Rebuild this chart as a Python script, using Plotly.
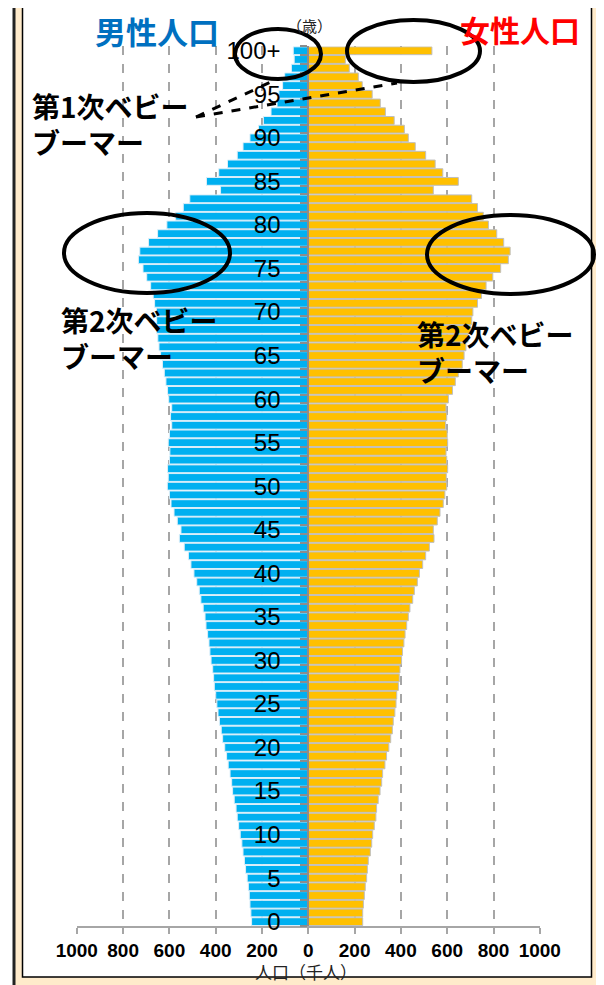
import plotly.graph_objects as go

# The page body has an 8px default margin: the figure is sized so that it
# fills the 604x985 window exactly from that offset.
WIN_W, WIN_H = 604, 985
OFF = 8
W, H = WIN_W - OFF, WIN_H - OFF

# ---------------- data (thousands of people), age 0 .. 100+ ----------------
ages = list(range(101))
male = [245, 248, 252, 255, 259, 264, 271, 276, 282, 287,
        294, 301, 307, 312, 320, 327, 331, 338, 346, 353,
        361, 370, 376, 384, 390, 395, 400, 406, 409, 413,
        420, 425, 429, 435, 442, 446, 454, 464, 471, 482,
        494, 507, 518, 536, 557, 550, 566, 580, 593, 600,
        609, 605, 608, 600, 598, 605, 600, 590, 595, 590,
        603, 608, 615, 622, 630, 638, 645, 650, 655, 655,
        656, 664, 670, 681, 698, 714, 734, 728, 690, 651,
        611, 573, 540, 512, 379, 440, 387, 349, 307, 282,
        252, 215, 194, 161, 135, 127, 111, 102, 73, 61,
        65]
female = [235, 235, 238, 242, 246, 252, 255, 259, 268, 274,
          278, 285, 292, 295, 302, 310, 317, 321, 331, 338,
          348, 356, 363, 367, 374, 379, 382, 389, 393, 396,
          403, 407, 413, 418, 425, 432, 439, 451, 458, 471,
          480, 494, 507, 523, 543, 540, 557, 569, 583, 590,
          598, 596, 602, 598, 595, 602, 600, 593, 598, 595,
          605, 623, 635, 648, 665, 673, 681, 690, 701, 706,
          711, 731, 748, 768, 797, 831, 864, 872, 844, 814,
          778, 756, 731, 706, 540, 648, 581, 548, 507, 462,
          432, 415, 371, 333, 311, 276, 233, 216, 177, 160,
          534]
age_tick_vals = list(range(0, 101, 5))
age_tick_text = [str(a) for a in range(0, 100, 5)] + ["100+"]
pop_tick_vals = list(range(-1000, 1001, 200))
pop_tick_text = [str(abs(v)) for v in pop_tick_vals]
boundary_ticks = [a - 0.5 for a in range(0, 102)]

male_title = "男性人口"
female_title = "女性人口"
unit_label = "（歳）"
x_title = "人口（千人）"
boomer1 = "第1次ベビー<br>ブーマー"
boomer2 = "第2次ベビー<br>ブーマー"


def px(x):
    """window pixel x -> paper fraction"""
    return (x - OFF) / W


def py(y):
    """window pixel y -> paper fraction"""
    return 1 - (y - OFF) / H


fig = go.Figure()
fig.add_trace(go.Bar(
    x=[-v for v in male], y=ages, orientation="h",
    marker=dict(color="#00B0F0", line=dict(color="#DDEFF9", width=1)),
    showlegend=False, hoverinfo="skip"))
fig.add_trace(go.Bar(
    x=female, y=ages, orientation="h",
    marker=dict(color="#FFC000", line=dict(color="#BFBFBF", width=1)),
    showlegend=False, hoverinfo="skip"))

x_dom = [px(76.8), px(539.8)]
y_dom = [py(926.0), py(46.4)]
zero_pos = x_dom[0] + 0.5 * (x_dom[1] - x_dom[0])

fig.update_layout(
    width=W, height=H,
    margin=dict(l=0, r=0, t=0, b=0, pad=0, autoexpand=False),
    paper_bgcolor="white", plot_bgcolor="rgba(0,0,0,0)",
    barmode="overlay", bargap=0.1,
    xaxis=dict(domain=x_dom, range=[-1000, 1000], tickmode="array",
               tickvals=pop_tick_vals, ticktext=pop_tick_text, automargin=False,
               showgrid=True, gridcolor="#A6A6A6", griddash="dash", gridwidth=1.5,
               zeroline=False, showline=True, linecolor="#A6A6A6", linewidth=2,
               ticks="outside", ticklen=6, tickwidth=2, tickcolor="#A6A6A6",
               tickfont=dict(family="Liberation Sans", size=19, color="black", weight="bold"),
               fixedrange=True),
    yaxis=dict(domain=y_dom, range=[-0.5, 100.5], anchor="free", position=zero_pos,
               automargin=False,
               tickmode="array", tickvals=age_tick_vals, ticktext=age_tick_text,
               ticks="", ticklabelstandoff=22,
               minor=dict(tickmode="array", tickvals=boundary_ticks, ticks="outside",
                          ticklen=7, tickwidth=1.5, tickcolor="#8C8C8C", showgrid=False),
               showgrid=False, zeroline=False, showline=True, linecolor="#8C8C8C", linewidth=2,
               tickfont=dict(family="Liberation Sans", size=24, color="black"),
               fixedrange=True),
)

shapes = []
# cream strip right of the outer frame
shapes.append(dict(type="rect", xref="paper", yref="paper", layer="below",
                   x0=px(600), x1=px(610), y0=py(1000), y1=py(-10),
                   fillcolor="#FFEBCB", line=dict(width=0)))
# outer cream frame and inner white panel
shapes.append(dict(type="rect", xref="paper", yref="paper", layer="below",
                   x0=px(14), x1=px(600), y0=py(1000), y1=py(-10),
                   fillcolor="#FFEBCB", line=dict(color="#222222", width=3)))
shapes.append(dict(type="rect", xref="paper", yref="paper", layer="below",
                   x0=px(22.5), x1=px(591.5), y0=py(977), y1=py(4.5),
                   fillcolor="white", line=dict(color="black", width=1.5)))
# highlight ellipses
for (x0, y0, x1, y1) in [(235, 29, 321, 79), (347, 20, 480, 82),
                         (64, 213, 230, 293), (427, 215, 594, 294)]:
    shapes.append(dict(type="circle", xref="paper", yref="paper", layer="above",
                       x0=px(x0), x1=px(x1), y0=py(y1), y1=py(y0),
                       line=dict(color="black", width=4)))
# dashed pointer lines
for (x1, y1) in [(275, 80), (397, 83)]:
    shapes.append(dict(type="line", xref="paper", yref="paper", layer="above",
                       x0=px(196), y0=py(117), x1=px(x1), y1=py(y1),
                       line=dict(color="black", width=3, dash="dash")))
fig.update_layout(shapes=shapes)

jp = "Noto Sans CJK JP"
anns = [
    dict(text=male_title, x=px(157), y=py(31), font=dict(family=jp, size=31, color="#0070C0", weight="bold")),
    dict(text=female_title, x=px(520), y=py(29), font=dict(family=jp, size=30, color="#FF0000", weight="bold")),
    dict(text=unit_label, x=px(309), y=py(25), font=dict(family=jp, size=15, color="#222222")),
    dict(text=x_title, x=px(306), y=py(971), font=dict(family=jp, size=17, color="#222222")),
    dict(text=boomer1, x=px(31), y=py(124), xanchor="left", align="left",
         font=dict(family=jp, size=28, color="black", weight="bold")),
    dict(text=boomer2, x=px(60), y=py(338), xanchor="left", align="left",
         font=dict(family=jp, size=28, color="black", weight="bold")),
    dict(text=boomer2, x=px(416), y=py(352), xanchor="left", align="left",
         font=dict(family=jp, size=28, color="black", weight="bold")),
]
for a in anns:
    a.setdefault("xanchor", "center")
    a.update(xref="paper", yref="paper", yanchor="middle", showarrow=False, borderpad=0)
fig.update_layout(annotations=anns)

fig.write_html("out.html")
